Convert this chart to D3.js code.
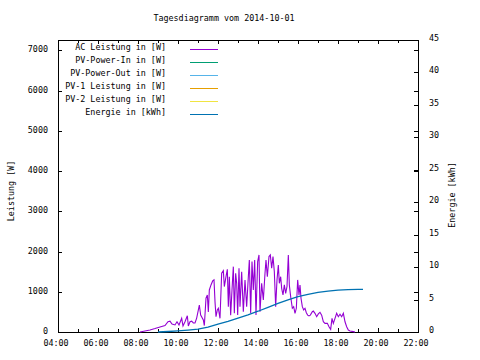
<!DOCTYPE html>
<html>
<head>
<meta charset="utf-8">
<script src="https://cdn.jsdelivr.net/npm/d3@7"></script>
<style>
  html, body { margin: 0; padding: 0; background: #fff; }
  svg { display: block; }
  text { font-family: "DejaVu Sans Mono", monospace; font-size: 8.4px; fill: #000; }
</style>
</head>
<body>
<svg id="chart" width="480" height="360"></svg>
<script>
const title = "Tagesdiagramm vom 2014-10-01";
const yLabelLeft = "Leistung [W]";
const yLabelRight = "Energie [kWh]";

const seriesNames = ["AC Leistung in [W]", "PV-Power-In in [W]", "PV-Power-Out in [W]",
                     "PV-1 Leistung in [W]", "PV-2 Leistung in [W]", "Energie in [kWh]"];
const seriesColors = ["#9400d3", "#009e73", "#56b4e9", "#e69f00", "#f0e442", "#0072b2"];

const leftTicks = [0, 1000, 2000, 3000, 4000, 5000, 6000, 7000];
const rightTicks = [0, 5, 10, 15, 20, 25, 30, 35, 40, 45];
const xTickLabels = ["04:00", "06:00", "08:00", "10:00", "12:00", "14:00", "16:00", "18:00", "20:00", "22:00"];

const acTimes = ["08:06","08:21","08:36","08:51","09:06","09:21","09:30","09:36","09:42","09:51","09:57",
  "10:03","10:11","10:15","10:21","10:28","10:31","10:36","10:41","10:46","10:51","10:56",
  "11:04","11:08","11:16","11:19","11:24","11:28","11:31","11:34","11:39","11:44","11:48","11:51","11:54","11:58",
  "12:01","12:06","12:11","12:16","12:19","12:24","12:28","12:31","12:34","12:38","12:42","12:46","12:49","12:53","12:56","12:59",
  "13:03","13:06","13:11","13:16","13:21","13:26","13:31","13:34","13:38","13:42","13:46","13:50","13:54","13:59",
  "14:03","14:06","14:11","14:16","14:21","14:24","14:28","14:33","14:37","14:41","14:45","14:49","14:53","14:57",
  "15:01","15:04","15:08","15:11","15:15","15:19","15:23","15:27","15:31","15:34","15:38","15:43","15:47","15:51","15:55","15:59",
  "16:03","16:06","16:09","16:13","16:17","16:21","16:25","16:29","16:33","16:37","16:43","16:46","16:51","16:56",
  "17:01","17:06","17:11","17:16","17:21","17:28","17:33","17:38","17:42","17:46","17:51","17:56",
  "18:01","18:06","18:11","18:16","18:21","18:26","18:31","18:36","18:46","18:51"];
const acValues = [0,25,50,85,125,160,255,270,200,175,255,
  175,340,150,255,405,150,255,270,225,225,345,
  670,420,300,160,840,920,500,1045,1170,1270,1295,755,380,550,
  590,340,1460,1525,1130,1375,1560,630,1375,420,1045,1625,465,1460,1210,420,
  1585,630,1500,505,1295,630,1375,1790,465,1750,1045,1790,420,1750,
  1915,505,1210,795,1460,1790,1375,1875,1915,1585,1875,1500,630,1295,
  1665,1210,1375,1085,920,1170,960,1130,1915,1170,880,590,630,465,590,1295,
  920,1170,840,630,550,590,480,420,400,420,505,520,465,380,
  450,490,420,255,215,215,130,65,340,215,340,465,
  380,440,380,465,255,130,50,25,10,0];

const energyTimes = ["09:00","09:30","10:00","10:30","11:00","11:30","12:00","12:30","13:00","13:30",
  "14:00","14:30","15:00","15:30","16:00","16:30","17:00","17:30","18:00","18:30","19:00","19:15"];
const energyValues = [0,0.08,0.18,0.3,0.45,0.75,1.2,1.65,2.15,2.65,
  3.2,3.8,4.4,4.95,5.45,5.8,6.1,6.3,6.45,6.52,6.56,6.57];

// no data recorded for these series
const pvInValues = [];
const pvOutValues = [];
const pv1Values = [];
const pv2Values = [];

const parse = d3.timeParse("%H:%M");
const fmt = d3.timeFormat("%H:%M");

const svg = d3.select("#chart");
const L = 58, R = 418, T = 40, B = 332;

const x = d3.scaleTime().domain([parse("04:00"), parse("22:00")]).range([L, R]);
const y1 = d3.scaleLinear().domain([0, 7260]).range([B, T]);
const y2 = d3.scaleLinear().domain([0, 45]).range([B, T]);

// title
svg.append("text").attr("x", 224).attr("y", 21).attr("text-anchor", "middle").text(title);

// axis labels
svg.append("text").attr("transform", "translate(14,191) rotate(-90)").attr("text-anchor", "middle").text(yLabelLeft);
svg.append("text").attr("transform", "translate(455,195) rotate(-90)").attr("text-anchor", "middle").text(yLabelRight);

const g = svg.append("g").attr("shape-rendering", "crispEdges");

// ticks
const hourTicks = d3.timeHour.range(parse("04:00"), d3.timeMinute.offset(parse("22:00"), 1));
hourTicks.forEach(t => {
  const xx = Math.round(x(t)) + 0.5;
  const major = xTickLabels.includes(fmt(t));
  const len = major ? 4 : 3;
  g.append("line").attr("x1", xx).attr("x2", xx).attr("y1", B).attr("y2", B - len).attr("stroke", "#000");
  g.append("line").attr("x1", xx).attr("x2", xx).attr("y1", T).attr("y2", T + len).attr("stroke", "#000");
});
xTickLabels.forEach(s => {
  svg.append("text").attr("x", x(parse(s)) - 2).attr("y", 346).attr("text-anchor", "middle").text(s);
});

leftTicks.forEach(v => {
  const yy = Math.round(y1(v)) + 0.5;
  g.append("line").attr("x1", L).attr("x2", L + 4).attr("y1", yy).attr("y2", yy).attr("stroke", "#000");
  g.append("line").attr("x1", R).attr("x2", R - 4).attr("y1", yy).attr("y2", yy).attr("stroke", "#000");
  svg.append("text").attr("x", 48).attr("y", y1(v) + 2).attr("text-anchor", "end").text(v);
});
rightTicks.forEach(v => {
  const yy = Math.round(y2(v)) + 0.5;
  g.append("line").attr("x1", R).attr("x2", R - 4).attr("y1", yy).attr("y2", yy).attr("stroke", "#000");
  svg.append("text").attr("x", 429).attr("y", y2(v) + 1).attr("text-anchor", "start").text(v);
});

// frame
g.append("rect").attr("x", L + 0.5).attr("y", T + 0.5).attr("width", R - L).attr("height", B - T)
  .attr("fill", "none").attr("stroke", "#000");

// series
const acData = acTimes.map((t, i) => ({t: parse(t), v: acValues[i]}));
const enData = energyTimes.map((t, i) => ({t: parse(t), v: energyValues[i]}));

svg.append("path").datum(acData)
  .attr("fill", "none").attr("stroke", seriesColors[0]).attr("stroke-width", 1.1)
  .attr("d", d3.line().x(d => x(d.t)).y(d => y1(d.v)));

[pvInValues, pvOutValues, pv1Values, pv2Values].forEach((arr, k) => {
  if (arr.length) {
    svg.append("path").datum(arr).attr("fill", "none").attr("stroke", seriesColors[k + 1])
      .attr("d", d3.line().x(d => x(parse(d[0]))).y(d => y1(d[1])));
  }
});

svg.append("path").datum(enData)
  .attr("fill", "none").attr("stroke", seriesColors[5]).attr("stroke-width", 1.3)
  .attr("d", d3.line().x(d => x(d.t)).y(d => y2(d.v)));

// legend
seriesNames.forEach((name, i) => {
  const ly = 49 + i * 13;
  svg.append("text").attr("x", 166).attr("y", ly + 0.5).attr("text-anchor", "end").text(name);
  svg.append("line").attr("x1", 190).attr("x2", 218).attr("y1", ly + 0.5).attr("y2", ly + 0.5)
    .attr("stroke", seriesColors[i]).attr("stroke-width", 1.2).attr("shape-rendering", "crispEdges");
});
</script>
</body>
</html>
